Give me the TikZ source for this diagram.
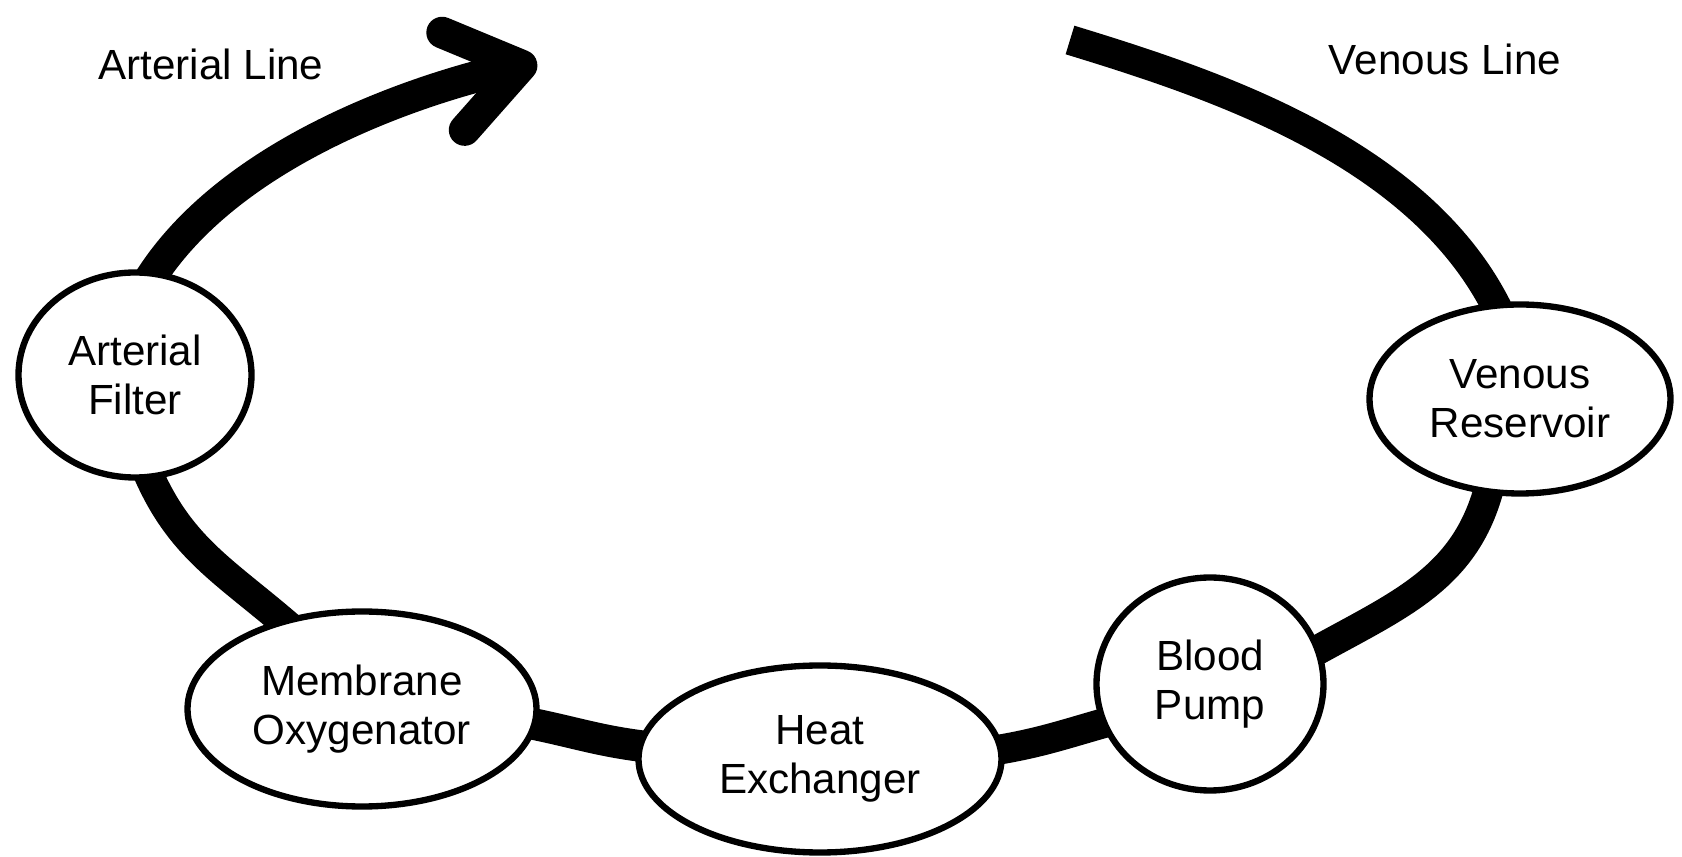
\documentclass[tikz,border=0pt]{standalone}
\usepackage{fontspec}
\setmainfont{Liberation Sans}
\usetikzlibrary{shapes.geometric, arrows.meta, backgrounds}

\begin{document}
\begin{tikzpicture}[
    font=\fontsize{12}{14}\selectfont,
    unit/.style={ellipse, draw=black, line width=1.8pt, fill=white, inner sep=0pt, align=center},
    tube/.style={line width=8.5pt, shorten <=-3mm, shorten >=-3mm},
    label/.style={inner sep=0pt}
]
   \useasboundingbox (0,0) rectangle (16.82,8.57);

   % Components
   \node[unit, minimum width=2.33cm, minimum height=2.05cm] (filter) at (1.35,4.82) {Arterial\\Filter};
   \node[unit, minimum width=3.49cm, minimum height=1.95cm] (oxy) at (3.62,1.48) {Membrane\\Oxygenator};
   \node[unit, minimum width=3.63cm, minimum height=1.87cm] (hex) at (8.20,0.98) {Heat\\Exchanger};
   \node[unit, minimum width=2.27cm, minimum height=2.13cm] (pump) at (12.10,1.73) {Blood\\Pump};
   \node[unit, minimum width=3.01cm, minimum height=1.89cm] (vres) at (15.20,4.58) {Venous\\Reservoir};

   % Labels
   \node[label] (artlabel) at (2.11,7.93) {Arterial Line};
   \node[label] (venlabel) at (14.45,7.98) {Venous Line};

   % Free ends of the lines
   \coordinate (arttip) at (5.37,7.95);
   \coordinate (venend) at (10.70,8.17);

   % Lines
   \begin{pgfonlayer}{background}
   \draw[tube, shorten <=0pt] (venend) to[out=-17, in=112, looseness=0.8] (vres.104);
   \draw[tube] (vres.-108) to[out=-100, in=30] (pump.18);
   \draw[tube] (pump.200) to[out=195, in=8] (hex.3);
   \draw[tube, line width=9pt] (hex.176) to[out=175, in=-10] (oxy.-5);
   \draw[tube] (oxy.132) to[out=138, in=-70] (filter.-82);
   \draw[line width=9pt, shorten <=-3mm, -{Straight Barb[length=7mm, width=10mm, line cap=round, line join=round]}]
       (filter.80) to[out=62, in=193, looseness=0.75] (arttip);
   \end{pgfonlayer}
\end{tikzpicture}
\end{document}
